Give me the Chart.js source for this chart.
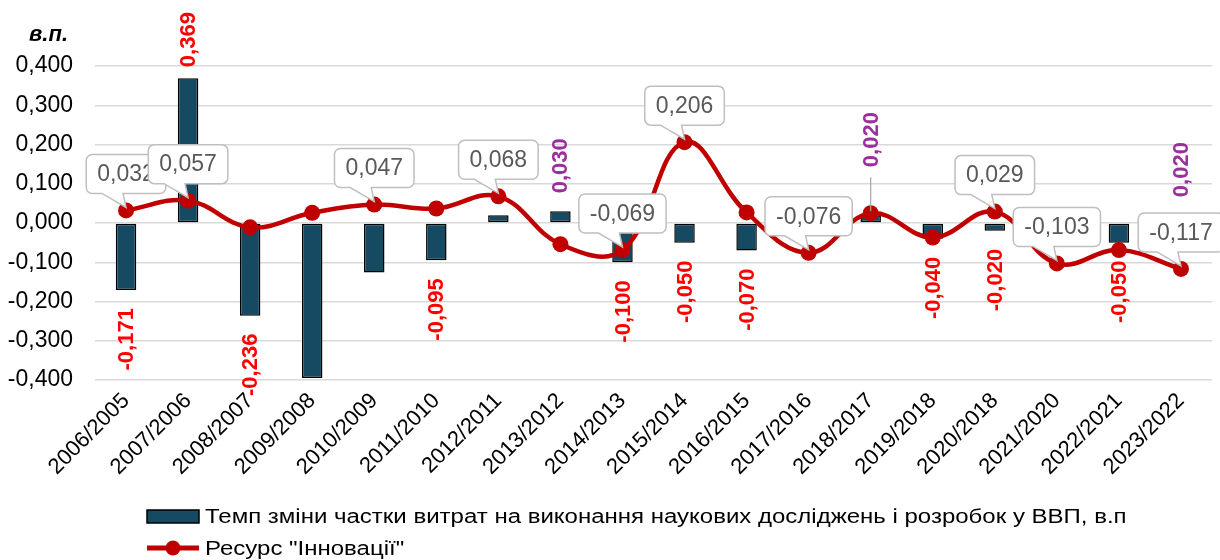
<!DOCTYPE html>
<html><head><meta charset="utf-8">
<script src="https://cdn.jsdelivr.net/npm/chart.js@4.4.1/dist/chart.umd.min.js"></script>
<style>html,body{margin:0;padding:0;background:#fff;}#wrap{width:1220px;height:560px;position:relative;}</style>
</head><body><div id="wrap"><canvas id="c" width="1220" height="560"></canvas></div>
<script>
const categories = ['2006/2005','2007/2006','2008/2007','2009/2008','2010/2009','2011/2010','2012/2011','2013/2012','2014/2013','2015/2014','2016/2015','2017/2016','2018/2017','2019/2018','2020/2018','2021/2020','2022/2021','2023/2022'];
const barValues = [-0.171, 0.369, -0.236, -0.395, -0.126, -0.095, 0.020, 0.030, -0.100, -0.050, -0.070, null, 0.020, -0.040, -0.020, null, -0.050, 0.020];
const lineValues = [0.032, 0.057, -0.011, 0.026, 0.047, 0.037, 0.068, -0.054, -0.069, 0.206, 0.027, -0.076, 0.025, -0.037, 0.029, -0.103, -0.069, -0.117];
const barLabelShown = [true, true, true, false, false, true, false, true, true, true, true, false, true, true, true, false, true, true];
const barLabelPurple = [false, false, false, false, false, false, false, true, false, false, false, false, true, false, false, false, false, true];
const lineLabelShown = [true, true, false, false, true, false, true, false, true, true, false, true, false, false, true, true, false, true];
const barSeriesName = 'Темп зміни частки витрат на виконання наукових досліджень і розробок у ВВП, в.п';
const lineSeriesName = 'Ресурс "Інновації"';
const yUnit = 'в.п.';
const yMin = -0.4, yMax = 0.4, yStep = 0.1;

const FONT = '"Liberation Sans", Arial, sans-serif';
const BAR_COLOR = '#154a62';
const LINE_COLOR = '#c00000';
const fmt = v => { if (Math.abs(v) < 1e-9) v = 0; return v.toFixed(3).replace('.', ','); };

const labelsPlugin = {
  id: 'labelsPlugin',
  afterDatasetsDraw(chart) {
    const ctx = chart.ctx;
    const barMeta = chart.getDatasetMeta(0);
    const lineMeta = chart.getDatasetMeta(1);
    // bar value labels (rotated)
    ctx.save();
    ctx.font = 'bold 22px ' + FONT;
    ctx.textBaseline = 'middle';
    barValues.forEach((v, i) => {
      if (!barLabelShown[i] || v === null) return;
      const el = barMeta.data[i];
      const cx = el.x;
      ctx.fillStyle = barLabelPurple[i] ? '#9b2f9b' : '#ff0000';
      ctx.save();
      if (v < 0) {
        const y0 = el.y + 18;
        ctx.translate(cx, y0);
        ctx.rotate(-Math.PI / 2);
        ctx.textAlign = 'right';
        ctx.fillText(fmt(v), 0, 1);
      } else {
        let gap = 18;
        if (i === 1) gap = 11;
        if (i === 12) gap = 48;
        const y0 = el.y - gap;
        if (i === 12) {
          ctx.save();
          ctx.strokeStyle = '#a6a6a6';
          ctx.lineWidth = 1.2;
          ctx.beginPath();
          ctx.moveTo(cx, y0 + 10);
          ctx.lineTo(cx, el.y - 4);
          ctx.stroke();
          ctx.restore();
        }
        ctx.translate(cx, y0);
        ctx.rotate(-Math.PI / 2);
        ctx.textAlign = 'left';
        ctx.fillText(fmt(v), 0, 1);
      }
      ctx.restore();
    });
    ctx.restore();

    // line callout boxes
    ctx.save();
    ctx.font = '23px ' + FONT;
    ctx.textBaseline = 'middle';
    ctx.textAlign = 'center';
    lineValues.forEach((v, i) => {
      if (!lineLabelShown[i]) return;
      const pt = lineMeta.data[i];
      const px = pt.x, py = pt.y;
      const txt = fmt(v);
      const w = ctx.measureText(txt).width + 22;
      const h = 39;
      const bottom = py - 17;
      const top = bottom - h;
      const left = px - w / 2;
      const r = 6;
      ctx.beginPath();
      ctx.moveTo(left + r, top);
      ctx.lineTo(left + w - r, top);
      ctx.arcTo(left + w, top, left + w, top + r, r);
      ctx.lineTo(left + w, bottom - r);
      ctx.arcTo(left + w, bottom, left + w - r, bottom, r);
      ctx.lineTo(px - 3, bottom);
      ctx.lineTo(px, py - 3);
      ctx.lineTo(px - 24, bottom);
      ctx.lineTo(left + r, bottom);
      ctx.arcTo(left, bottom, left, bottom - r, r);
      ctx.lineTo(left, top + r);
      ctx.arcTo(left, top, left + r, top, r);
      ctx.closePath();
      ctx.fillStyle = '#ffffff';
      ctx.fill();
      ctx.strokeStyle = '#bfbfbf';
      ctx.lineWidth = 1.5;
      ctx.stroke();
      ctx.fillStyle = '#595959';
      ctx.fillText(txt, px, top + h / 2 + 1);
    });
    ctx.restore();
  },
  afterDraw(chart) {
    const ctx = chart.ctx;
    ctx.save();
    // unit label
    ctx.font = 'italic bold 22px ' + FONT;
    ctx.fillStyle = '#000';
    ctx.textAlign = 'right';
    ctx.textBaseline = 'alphabetic';
    ctx.fillText(yUnit, 68, 41);
    // legend
    const lx = 147, lw = 52;
    // item 1
    ctx.fillStyle = BAR_COLOR;
    ctx.fillRect(lx, 510, lw, 13);
    ctx.strokeStyle = '#000';
    ctx.lineWidth = 1.5;
    ctx.strokeRect(lx, 510, lw, 13);
    // item 2
    ctx.strokeStyle = LINE_COLOR;
    ctx.lineWidth = 5;
    ctx.beginPath();
    ctx.moveTo(lx, 548);
    ctx.lineTo(lx + lw, 548);
    ctx.stroke();
    ctx.fillStyle = LINE_COLOR;
    ctx.beginPath();
    ctx.arc(lx + lw / 2, 548, 7.5, 0, Math.PI * 2);
    ctx.fill();
    // legend texts (wide-set as in the reference)
    ctx.font = '20px ' + FONT;
    ctx.textAlign = 'left';
    ctx.textBaseline = 'middle';
    ctx.fillStyle = '#000';
    [[chart.data.datasets[0].label, 517], [chart.data.datasets[1].label, 549]].forEach(([t, y]) => {
      ctx.save();
      ctx.translate(lx + lw + 6, y);
      ctx.scale(1.2, 1);
      ctx.fillText(t, 0, 0);
      ctx.restore();
    });
    ctx.restore();
  }
};

new Chart(document.getElementById('c'), {
  data: {
    labels: categories,
    datasets: [
      {
        type: 'bar', label: barSeriesName, data: barValues, order: 2,
        backgroundColor: BAR_COLOR, borderColor: '#000', borderWidth: 1.5, borderSkipped: false,
        barPercentage: 0.33, categoryPercentage: 1.0
      },
      {
        type: 'line', label: lineSeriesName, data: lineValues, order: 1,
        borderColor: LINE_COLOR, borderWidth: 4.5, tension: 0.4,
        pointRadius: 8, pointHoverRadius: 8, pointBackgroundColor: LINE_COLOR, pointBorderWidth: 0
      }
    ]
  },
  options: {
    responsive: false,
    devicePixelRatio: 1,
    animation: false,
    layout: { padding: { top: 66, bottom: 70, left: 0, right: 8 } },
    plugins: { legend: { display: false }, tooltip: { enabled: false } },
    scales: {
      x: {
        grid: { display: false, drawTicks: false },
        border: { display: false },
        ticks: { autoSkip: false, maxRotation: 45, minRotation: 45, color: '#000', padding: 8, font: { family: FONT, size: 22 } },
        afterFit: s => { s.height = 110; }
      },
      y: {
        min: yMin, max: yMax,
        grid: { color: '#d9d9d9', lineWidth: 1.5, drawTicks: false },
        border: { display: false },
        ticks: { stepSize: yStep, color: '#000', padding: 22, font: { family: FONT, size: 23 }, callback: v => fmt(v) },
        afterFit: s => { s.width = 95; }
      }
    }
  },
  plugins: [labelsPlugin]
});
</script></body></html>
